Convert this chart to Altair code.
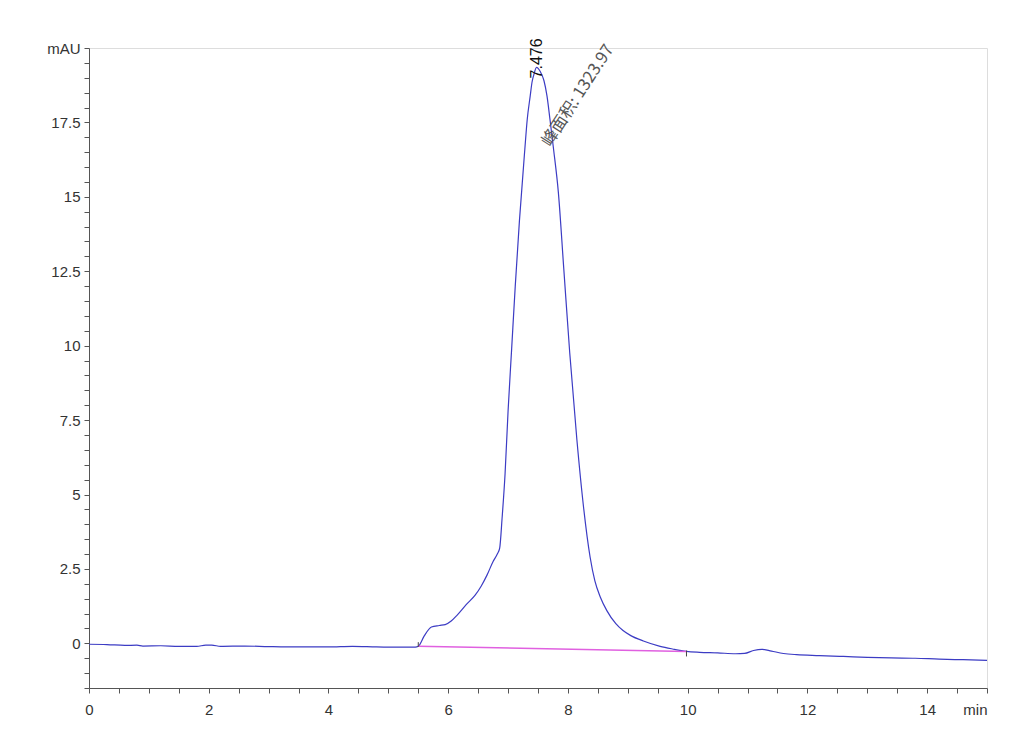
import altair as alt
import pandas as pd

# chromatogram (time in min, signal in mAU)
times = [0.0, 0.3, 0.6, 0.8, 0.9, 1.2, 1.5, 1.8, 1.95, 2.05, 2.2, 2.6, 3.0, 3.3, 3.7, 4.0, 4.4, 4.8, 5.2, 5.45,
         5.5, 5.6, 5.72, 5.85, 5.95, 6.05, 6.15, 6.3, 6.45, 6.55, 6.65, 6.75, 6.82, 6.86, 6.9, 6.95, 7.0, 7.06,
         7.12, 7.19, 7.28, 7.32, 7.37, 7.40, 7.43, 7.476, 7.54, 7.60, 7.65, 7.70, 7.76, 7.84, 7.93, 8.03, 8.15,
         8.26, 8.37, 8.45, 8.54, 8.65, 8.8, 8.92, 9.05, 9.26, 9.54, 9.75, 9.98, 10.2, 10.5, 10.8,
         10.95, 11.1, 11.24, 11.4, 11.6, 11.82, 12.2, 12.6, 13.0, 13.4, 13.8, 14.2, 14.6, 15.0]
signal = [-0.03, -0.04, -0.07, -0.06, -0.09, -0.08, -0.10, -0.10, -0.06, -0.06, -0.10, -0.09, -0.11, -0.12,
          -0.12, -0.12, -0.10, -0.12, -0.13, -0.13,
          -0.10, 0.25, 0.55, 0.60, 0.63, 0.75, 0.95, 1.30, 1.62, 1.92, 2.30, 2.75, 3.0, 3.2, 4.2, 5.7, 7.8, 9.9,
          12.0, 14.2, 16.6, 17.6, 18.39, 18.85, 19.1, 19.35, 19.2, 18.9, 18.39, 17.6, 16.6, 15.15, 12.6, 9.76, 6.83,
          4.59, 2.9, 2.1, 1.56, 1.1, 0.66, 0.43, 0.26, 0.08, -0.10, -0.19, -0.27, -0.30, -0.32, -0.35,
          -0.34, -0.24, -0.20, -0.26, -0.34, -0.38, -0.41, -0.44, -0.47, -0.49, -0.50, -0.53, -0.55, -0.57]

# integration baseline
base_t = [5.5, 9.98]
base_v = [-0.10, -0.27]
# integration markers
mark_t = [5.5, 9.98]
mark_v1 = [0.04, -0.24]
mark_v2 = [-0.12, -0.44]

# annotations
peak_rt_label = "7.476"
area_label = "峰面积: 1323.97"

x_ticks = [i * 0.5 for i in range(0, 31)]
y_ticks = [-1.5 + i * 0.5 for i in range(0, 44)]

df = pd.DataFrame({"t": times, "v": signal})
dfb = pd.DataFrame({"t": base_t, "v": base_v})
dfm = pd.DataFrame({"t": mark_t, "v1": mark_v1, "v2": mark_v2})

xscale = alt.Scale(domain=[0, 15], nice=False, zero=False)
yscale = alt.Scale(domain=[-1.5, 20], nice=False, zero=False)

LABEL_FONT = "Liberation Sans"

xaxis = alt.Axis(
    values=x_ticks, title=None, grid=False, format="~g",
    labelExpr="datum.value == 15 ? 'min' : (datum.value % 2 == 0 ? datum.label : '')",
    labelAlign={"condition": {"test": "datum.value == 15", "value": "right"}, "value": "center"},
    labelOverlap=False, labelFlush=False,
    labelFont=LABEL_FONT, labelFontSize=15, labelColor="#333333",
    domainColor="#555555", tickColor="#555555", tickSize=5, labelPadding=9,
)
yaxis = alt.Axis(
    values=y_ticks, title=None, grid=False, format="~g",
    labelExpr="datum.value == 20 ? 'mAU' : (datum.value >= 0 && datum.value % 2.5 == 0 ? datum.label : '')",
    labelOverlap=False, labelFlush=False,
    labelFont=LABEL_FONT, labelFontSize=15, labelColor="#333333",
    domainColor="#555555", tickColor="#555555", tickSize=5, labelPadding=4,
)

X = alt.X("t:Q", scale=xscale, axis=xaxis)
Y = alt.Y("v:Q", scale=yscale, axis=yaxis)

line = alt.Chart(df).mark_line(color="#3c3cc4", strokeWidth=1.2, interpolate="monotone").encode(x=X, y=Y)

base = alt.Chart(dfb).mark_line(color="#e060e0", strokeWidth=1.5).encode(x=X, y=Y)

marks = alt.Chart(dfm).mark_rule(color="#444444", strokeWidth=1).encode(
    x=X,
    y=alt.Y("v1:Q", scale=yscale, axis=yaxis),
    y2="v2:Q",
)

txt1 = alt.Chart(pd.DataFrame({"t": [7.49], "v": [19.65], "s": [peak_rt_label]})).mark_text(
    angle=270, align="center", baseline="middle", fontSize=16, color="#111111", font="Liberation Sans"
).encode(x=X, y=Y, text="s:N")

txt2 = alt.Chart(pd.DataFrame({"t": [8.17], "v": [18.4], "s": [area_label]})).mark_text(
    angle=303, align="center", baseline="middle", fontSize=16.5, color="#555555", font="Noto Sans CJK SC"
).encode(x=X, y=Y, text="s:N")

chart = (line + base + marks + txt1 + txt2).properties(
    width=898, height=640,
    autosize=alt.AutoSizeParams(type="none"),
    padding={"left": 81, "top": 40, "right": 30, "bottom": 50},
).configure_view(stroke=None).configure(background="white")

chart.save("out.html", embed_options={"renderer": "svg", "actions": False})
